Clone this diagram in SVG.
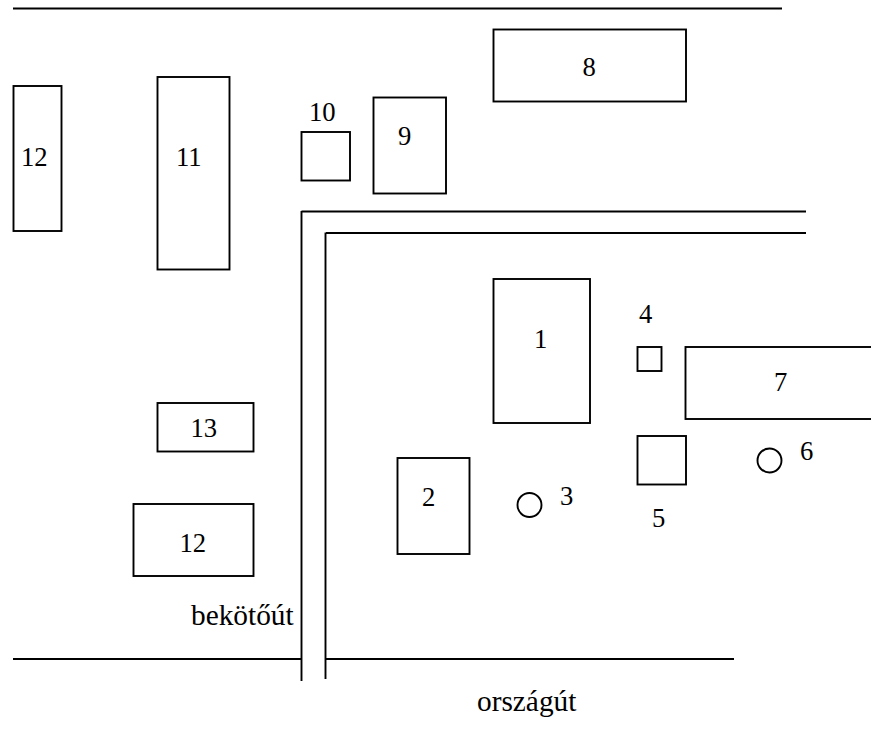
<svg xmlns="http://www.w3.org/2000/svg" width="871" height="731" viewBox="0 0 871 731">
<style>
rect,circle{fill:#fff;stroke:#000;stroke-width:1.9}
line{stroke:#000;stroke-width:1.9}
text{font-family:"Liberation Serif","Times New Roman",serif;font-size:26.67px;fill:#000}
.road{font-size:29.33px}
</style>
<rect width="871" height="731" style="fill:#fff;stroke:none"/>
<g id="connectors">
<line x1="13" y1="8.500" x2="782" y2="8.500" style="stroke-width:2"/>
<line x1="301.500" y1="211.500" x2="806" y2="211.500"/>
<line x1="326" y1="233" x2="806" y2="233"/>
<line x1="301.500" y1="211" x2="301.500" y2="681"/>
<line x1="325.500" y1="232.500" x2="325.500" y2="679"/>
<line x1="13" y1="659" x2="302" y2="659"/>
<line x1="326" y1="659" x2="734" y2="659"/>
</g>
<g id="n12a"><rect x="13.500" y="86" width="48" height="145"/><text x="21" y="166">12</text></g>
<g id="n11"><rect x="157.500" y="77" width="72" height="192.500"/><text x="176" y="166">11</text></g>
<g id="n10"><rect x="301.500" y="132" width="48.500" height="48.500"/><text x="309" y="120.500">10</text></g>
<g id="n9"><rect x="373.500" y="97.500" width="72.500" height="96"/><text x="398" y="145">9</text></g>
<g id="n8"><rect x="493.500" y="29.500" width="192.500" height="72"/><text x="582.500" y="76">8</text></g>
<g id="n1"><rect x="493.500" y="279" width="96.500" height="144"/><text x="534" y="348">1</text></g>
<g id="n4"><rect x="637.500" y="347" width="24" height="24"/><text x="639" y="323">4</text></g>
<g id="n7"><rect x="685.500" y="347" width="190" height="72"/><text x="774" y="391">7</text></g>
<g id="n5"><rect x="637.500" y="436" width="48.500" height="48.500"/><text x="652" y="527">5</text></g>
<g id="n6"><circle cx="769.500" cy="460.500" r="12"/><text x="800" y="460">6</text></g>
<g id="n3"><circle cx="529.500" cy="505" r="12"/><text x="560" y="505">3</text></g>
<g id="n2"><rect x="397.500" y="458" width="72" height="96"/><text x="422" y="506">2</text></g>
<g id="n13"><rect x="157.500" y="403" width="96" height="48.500"/><text x="190.500" y="437">13</text></g>
<g id="n12b"><rect x="133.500" y="504" width="120" height="72"/><text x="179.500" y="551.500">12</text></g>
<text class="road" x="191" y="625">bekötőút</text>
<text class="road" x="477" y="711">országút</text>
</svg>
